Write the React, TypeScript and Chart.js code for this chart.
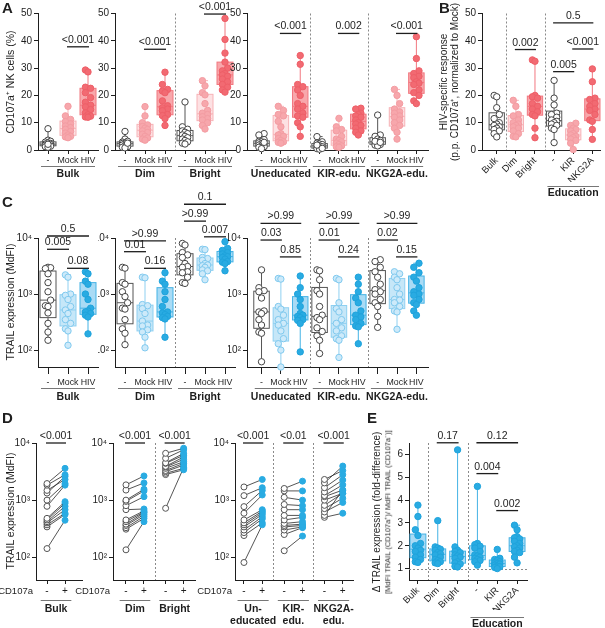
import React, { useEffect, useRef } from "react";
import { Chart, registerables } from "chart.js";

Chart.register(...registerables);

const FONT = "Arial, 'Liberation Sans', Helvetica, sans-serif";
const INK = "#1e1e1e";
const BLUE = "#29abe2";

// ===== Panel A: CD107a+ NK cells (%) =====
const A_BULK_NEG = [7.8, 3.6, 3.2, 2.9, 2.6, 2.4, 2.2, 2.0, 1.8, 1.6, 1.4, 1.2, 1.0, 2.1];
const A_BULK_MOCK = [16.0, 12.5, 11.2, 10.4, 9.6, 8.8, 8.2, 7.6, 6.8, 6.2, 5.5, 5.0, 4.8, 4.5];
const A_BULK_HIV = [29.3, 28.6, 23.0, 22.6, 21.0, 19.2, 17.5, 16.4, 15.8, 14.8, 13.6, 12.9, 12.4, 12.1, 12.0];
const A_DIM_NEG = [6.8, 4.0, 3.2, 2.9, 2.6, 2.4, 2.2, 2.0, 1.8, 1.5, 1.2, 1.0, 0.8, 2.5];
const A_DIM_MOCK = [15.9, 12.5, 10.0, 9.2, 8.6, 8.0, 7.5, 7.0, 6.4, 5.8, 5.0, 4.4, 4.0, 3.6];
const A_DIM_HIV = [28.5, 24.0, 22.2, 21.6, 21.0, 18.0, 16.2, 15.5, 15.0, 14.4, 13.0, 12.6, 11.5, 9.0];
const A_BRIGHT_NEG = [17.6, 8.5, 7.6, 7.0, 6.5, 6.0, 5.5, 5.0, 4.5, 4.0, 3.5, 3.0, 2.5, 2.2];
const A_BRIGHT_MOCK = [25.4, 23.5, 21.0, 20.2, 17.0, 14.5, 13.5, 13.0, 12.2, 11.5, 11.0, 10.0, 9.0, 7.7];
const A_BRIGHT_HIV = [48.2, 40.5, 35.5, 32.2, 30.0, 29.0, 28.0, 27.5, 27.0, 26.0, 25.0, 24.0, 23.0, 22.0, 21.2];
const A_UNEDU_NEG = [6.0, 5.5, 3.8, 3.2, 3.0, 2.6, 2.3, 2.0, 1.8, 1.5, 1.2, 1.0, 0.5, 2.8];
const A_UNEDU_MOCK = [16.0, 14.5, 13.0, 12.5, 10.5, 8.5, 6.0, 5.5, 5.0, 4.2, 3.5, 3.0, 2.8, 2.5];
const A_UNEDU_HIV = [34.6, 31.4, 24.0, 23.2, 22.0, 20.0, 17.0, 16.0, 15.0, 13.5, 12.5, 12.0, 10.0, 8.5, 5.0];
const A_KIR_NEG = [4.9, 3.0, 2.5, 2.2, 2.0, 1.5, 1.2, 1.0, 0.8, 0.5, 0.3, 1.8, 0.6];
const A_KIR_MOCK = [11.6, 8.5, 7.5, 7.0, 5.0, 4.0, 3.5, 3.0, 2.5, 2.0, 1.5, 1.2, 1.0];
const A_KIR_HIV = [15.3, 15.0, 13.5, 13.0, 12.5, 12.0, 11.0, 10.0, 9.5, 9.0, 8.0, 7.0, 6.5, 5.5];
const A_NKG2A_NEG = [12.8, 5.5, 5.0, 4.0, 3.5, 3.0, 2.5, 2.2, 2.0, 1.8, 1.5, 3.2, 2.8];
const A_NKG2A_MOCK = [22.2, 20.0, 17.0, 15.0, 14.0, 13.5, 12.5, 12.0, 11.0, 10.0, 9.0, 8.0, 6.5, 4.0];
const A_NKG2A_HIV = [41.5, 33.5, 29.0, 28.0, 27.0, 26.5, 25.0, 24.5, 24.0, 22.0, 21.0, 20.0, 18.0, 17.0];

// ===== Panel B: HIV-specific response =====
const B_BULK = [20.0, 19.5, 15.5, 13.0, 11.5, 10.0, 9.5, 9.0, 8.5, 8.0, 7.5, 7.0, 6.0, 4.8];
const B_DIM = [18.2, 16.0, 13.0, 12.5, 11.0, 10.0, 9.5, 9.0, 8.5, 8.0, 7.0, 6.0, 5.0, 4.8];
const B_BRIGHT = [33.0, 32.5, 20.0, 19.5, 19.0, 17.0, 16.0, 15.0, 14.0, 13.0, 12.5, 8.0, 4.5];
const B_UNEDU = [25.5, 19.0, 16.5, 13.5, 13.0, 12.0, 11.0, 10.5, 10.0, 9.5, 9.0, 8.0, 7.5, 2.7];
const B_KIR = [9.8, 9.0, 8.0, 7.5, 7.0, 6.0, 5.5, 5.0, 4.5, 4.0, 3.5, 2.5, 0.2];
const B_NKG2A = [29.7, 25.0, 19.0, 18.5, 17.0, 16.0, 15.0, 14.5, 13.0, 11.0, 10.5, 7.5, 3.9];

// ===== Panel C: TRAIL expression (MdFI) =====
const C_BULK_NEG = [3000, 2950, 2850, 2300, 1600, 1100, 780, 620, 600, 460, 300, 210, 150];
const C_BULK_MOCK = [2200, 2000, 1000, 950, 800, 600, 520, 450, 350, 300, 240, 220, 122];
const C_BULK_HIV = [2500, 2300, 1700, 1500, 1000, 800, 560, 500, 480, 450, 420, 390, 195];
const C_DIM_NEG = [3000, 2900, 1600, 1500, 1100, 900, 700, 560, 540, 350, 240, 200, 125];
const C_DIM_MOCK = [2000, 1950, 650, 620, 550, 450, 330, 280, 270, 230, 210, 170, 110];
const C_DIM_HIV = [2400, 1700, 1500, 1100, 800, 600, 480, 460, 430, 400, 380, 360, 170];
const C_BRIGHT_NEG = [8000, 7500, 5500, 5000, 4500, 3500, 3100, 3000, 2500, 2400, 2000, 1600, 1550];
const C_BRIGHT_MOCK = [6300, 6200, 4500, 4300, 4000, 3500, 3300, 3200, 3000, 2700, 2600, 2300, 1800];
const C_BRIGHT_HIV = [8600, 6500, 6000, 5500, 5200, 4800, 4650, 4500, 4200, 3800, 3700, 3500, 2600];
const C_UNEDU_NEG = [2700, 1300, 1150, 1100, 850, 500, 480, 450, 350, 280, 210, 200, 62];
const C_UNEDU_MOCK = [1900, 1850, 600, 540, 420, 350, 300, 280, 220, 160, 130, 100, 50];
const C_UNEDU_HIV = [2100, 1300, 1000, 800, 600, 450, 420, 400, 380, 350, 340, 300, 93];
const C_KIR_NEG = [2700, 2600, 1800, 1150, 1000, 600, 420, 380, 350, 250, 215, 180, 150, 87];
const C_KIR_MOCK = [1900, 1800, 700, 550, 480, 350, 300, 250, 220, 180, 160, 150, 74];
const C_KIR_HIV = [2000, 1500, 1100, 850, 700, 500, 420, 390, 350, 300, 270, 260, 130];
const C_NKG2A_NEG = [4100, 3800, 3000, 2500, 2000, 1500, 1200, 1100, 1000, 800, 700, 600, 400, 255];
const C_NKG2A_MOCK = [2500, 2300, 2000, 1800, 1300, 1000, 800, 780, 700, 600, 500, 480, 235];
const C_NKG2A_HIV = [3550, 3000, 2400, 2000, 1700, 1300, 1100, 1000, 950, 800, 700, 650, 500, 420];

// ===== Panel D: paired TRAIL (CD107a- vs CD107a+) =====
const D_BULK_NEG = [1950, 1830, 1480, 1330, 1000, 780, 480, 450, 420, 400, 370, 340, 142];
const D_BULK_POS = [3600, 2780, 2300, 2600, 1950, 1830, 940, 880, 780, 680, 590, 560, 445];
const D_DIM_NEG = [1850, 1500, 1000, 950, 800, 680, 450, 420, 380, 360, 330, 310, 135];
const D_DIM_POS = [2650, 2000, 1550, 1450, 1150, 700, 650, 620, 600, 560, 520, 480, 420];
const D_BRIGHT_NEG = [6600, 5400, 4500, 4400, 3900, 3800, 3600, 3300, 3150, 2950, 2800, 720];
const D_BRIGHT_POS = [8100, 7600, 6600, 6100, 5700, 5200, 4700, 4400, 4100, 3600, 3400, 3700];
const D_UNEDU_NEG = [1700, 1200, 770, 590, 450, 400, 370, 340, 300, 270, 240, 81];
const D_UNEDU_POS = [2300, 1650, 1480, 1230, 680, 640, 600, 560, 510, 470, 400, 370];
const D_KIR_NEG = [1600, 1450, 1120, 840, 680, 540, 450, 390, 360, 340, 300, 250, 130];
const D_KIR_POS = [2150, 1450, 1000, 800, 680, 540, 500, 420, 380, 360, 340, 330, 235];
const D_NKG2A_NEG = [2300, 2000, 1650, 1390, 1200, 1150, 1000, 810, 710, 620, 540, 500];
const D_NKG2A_POS = [3300, 3950, 2780, 2250, 1850, 1500, 1320, 1320, 1080, 910, 1500, 590];

// ===== Panel E: fold-difference =====
const E_BULK = [3.78, 3.28, 2.7, 2.45, 2.1, 2.0, 1.9, 1.8, 1.75, 1.6, 1.5, 1.4, 1.3, 1.27];
const E_DIM = [3.1, 1.95, 1.9, 1.85, 1.8, 1.7, 1.65, 1.6, 1.5, 1.4, 1.35, 1.3, 1.25, 1.22];
const E_BRIGHT = [6.2, 1.95, 1.8, 1.75, 1.7, 1.6, 1.55, 1.5, 1.45, 1.3, 1.25, 1.2, 1.1, 1.07];
const E_UNEDU = [4.6, 2.1, 2.05, 1.98, 1.9, 1.75, 1.6, 1.55, 1.5, 1.45, 1.4, 1.35, 1.3, 1.15];
const E_KIR = [1.84, 1.45, 1.4, 1.35, 1.3, 1.25, 1.22, 1.2, 1.15, 1.1, 1.08, 1.05, 1.0];
const E_NKG2A = [2.9, 2.7, 2.4, 2.35, 2.3, 2.2, 2.1, 2.0, 1.95, 1.9, 1.8, 1.75, 1.7, 1.5, 1.25];

// ===== Labels / ticks =====
const COND_LABELS = ["-", "Mock", "HIV"];
const PM_LABELS = ["-", "+"];
const SUBSET_LABELS = ["Bulk", "Dim", "Bright", "-", "KIR", "NKG2A"];
const PCT_TICKS = [0, 10, 20, 30, 40, 50];
const LOG_TICKS = [100, 1000, 10000];
const LOG_TICK_LABELS = ["10\u00B2", "10\u00B3", "10\u2074"];
const FOLD_TICKS = [1, 2, 3, 4, 5, 6];

// ===== styles =====
type Style = { boxFill: string; boxStroke: string; ptFill: string; ptStroke: string };
const ST_NEG: Style = { boxFill: "#ffffff", boxStroke: "#555555", ptFill: "#ffffff", ptStroke: "#444444" };
const ST_PINK_L: Style = { boxFill: "#fde1e3", boxStroke: "#f7b3b7", ptFill: "#f7a7ac", ptStroke: "#f39ca2" };
const ST_PINK_D: Style = { boxFill: "#f8a7ab", boxStroke: "#f27880", ptFill: "#f26a72", ptStroke: "#ee5f68" };
const ST_BLUE_L: Style = { boxFill: "#c6e7f8", boxStroke: "#8fd0f1", ptFill: "#cdeafa", ptStroke: "#80c9ee" };
const ST_BLUE_D: Style = { boxFill: "#a9dbf5", boxStroke: "#45b3e5", ptFill: BLUE, ptStroke: "#1fa3dc" };

type Box = { x: number; values: number[]; style: Style };
type Pair = { x0: number; x1: number; neg: number[]; pos: number[] };
type Bracket = { a: number; b: number; y: number; t: string };
type Group = { a: number; b: number; lines: string[] };
type Spec = {
  id: string;
  canvas: { x: number; y: number; w: number; h: number };
  area: { l: number; t: number; r: number; b: number };
  xMin: number; xMax: number; xPos: number[]; xLabels: string[];
  rot?: number; xAxisH: number; xTick: number; xPad: number; xFont: number;
  yType: "linear" | "logarithmic"; yMin: number; yMax: number; yTicks: number[]; yLabels: string[];
  boxes?: Box[]; pairs?: Pair[];
  seps: number[]; brackets: Bracket[]; groups: Group[];
  gU: number; gL: number; gLH: number;
  bw: number; xTitle?: string; hline?: number;
};

const range = (n: number) => Array.from({ length: n }, (_, i) => i);
const rep = (arr: string[], n: number) => range(n).flatMap(() => arr);
const triple = (sets: number[][][], styles: Style[]): Box[] =>
  sets.flatMap((trip, gi) => trip.map((vals, k) => ({ x: gi * 3 + k, values: vals, style: styles[k] })));
const RED3 = [ST_NEG, ST_PINK_L, ST_PINK_D];
const BLUE3 = [ST_NEG, ST_BLUE_L, ST_BLUE_D];
const pctLabels = PCT_TICKS.map(String);

const rowA = { yType: "linear" as const, yMin: 0, yMax: 50, yTicks: PCT_TICKS, yLabels: pctLabels, xAxisH: 14, xTick: 4, xPad: 1, xFont: 8.8, gU: 16, gL: 24, gLH: 12, bw: 0.8 };
const rowC = { yType: "logarithmic" as const, yMin: 50, yMax: 10000, yTicks: LOG_TICKS, yLabels: LOG_TICK_LABELS, xAxisH: 22, xTick: 7, xPad: 3, xFont: 8.8, gU: 21, gL: 30, gLH: 12, bw: 0.8 };
const rowD = { yType: "logarithmic" as const, yMin: 40, yMax: 10000, yTicks: LOG_TICKS, yLabels: LOG_TICK_LABELS, xAxisH: 14, xTick: 4, xPad: 1, xFont: 10, gU: 20, gL: 29, gLH: 12, bw: 0.8, xTitle: "CD107a" };

const SPECS: Spec[] = [
  {
    id: "A1", ...rowA, canvas: { x: 0, y: 0, w: 112, h: 185 }, area: { l: 38, t: 13.5, r: 98, b: 150 },
    xMin: -0.5, xMax: 2.5, xPos: range(3), xLabels: COND_LABELS,
    boxes: triple([[A_BULK_NEG, A_BULK_MOCK, A_BULK_HIV]], RED3),
    seps: [], brackets: [{ a: 1, b: 2, y: 37.8, t: "<0.001" }], groups: [{ a: 0, b: 2, lines: ["Bulk"] }],
  },
  {
    id: "A2", ...rowA, canvas: { x: 98, y: 0, w: 146, h: 185 }, area: { l: 115, t: 13.5, r: 235, b: 150 },
    xMin: -0.5, xMax: 5.5, xPos: range(6), xLabels: rep(COND_LABELS, 2),
    boxes: triple([[A_DIM_NEG, A_DIM_MOCK, A_DIM_HIV], [A_BRIGHT_NEG, A_BRIGHT_MOCK, A_BRIGHT_HIV]], RED3),
    seps: [2.5],
    brackets: [{ a: 1, b: 2, y: 36.9, t: "<0.001" }, { a: 4, b: 5, y: 49.8, t: "<0.001" }],
    groups: [{ a: 0, b: 2, lines: ["Dim"] }, { a: 3, b: 5, lines: ["Bright"] }],
  },
  {
    id: "A3", ...rowA, canvas: { x: 228, y: 0, w: 212, h: 185 }, area: { l: 247, t: 13.5, r: 428, b: 150 },
    xMin: -0.75, xMax: 8.6, xPos: range(9), xLabels: rep(COND_LABELS, 3),
    boxes: triple([[A_UNEDU_NEG, A_UNEDU_MOCK, A_UNEDU_HIV], [A_KIR_NEG, A_KIR_MOCK, A_KIR_HIV], [A_NKG2A_NEG, A_NKG2A_MOCK, A_NKG2A_HIV]], RED3),
    seps: [2.5, 5.5],
    brackets: [{ a: 1, b: 2, y: 42.7, t: "<0.001" }, { a: 4, b: 5, y: 42.7, t: "0.002" }, { a: 7, b: 8, y: 42.7, t: "<0.001" }],
    groups: [{ a: 0, b: 2, lines: ["Uneducated"] }, { a: 3, b: 5, lines: ["KIR-edu."] }, { a: 6, b: 8, lines: ["NKG2A-edu."] }],
  },
  {
    id: "B", ...rowA, canvas: { x: 462, y: 0, w: 143, h: 200 }, area: { l: 482, t: 13.5, r: 603, b: 150 },
    xMin: -0.77, xMax: 5.4, xPos: range(6), xLabels: SUBSET_LABELS, rot: 45, xAxisH: 32, xTick: 4, xPad: 1, xFont: 9.5,
    boxes: [
      { x: 0, values: B_BULK, style: ST_NEG }, { x: 1, values: B_DIM, style: ST_PINK_L }, { x: 2, values: B_BRIGHT, style: ST_PINK_D },
      { x: 3, values: B_UNEDU, style: ST_NEG }, { x: 4, values: B_KIR, style: ST_PINK_L }, { x: 5, values: B_NKG2A, style: ST_PINK_D },
    ],
    seps: [0.5, 2.5],
    brackets: [{ a: 1, b: 2, y: 36.8, t: "0.002" }, { a: 3, b: 4, y: 28.7, t: "0.005" }, { a: 4, b: 5, y: 37, t: "<0.001" }, { a: 3, b: 5, y: 46.6, t: "0.5" }],
    groups: [{ a: 3, b: 5, lines: ["Education"] }], gU: 36, gL: 43,
  },
  {
    id: "C1", ...rowC, canvas: { x: 0, y: 185, w: 112, h: 222 }, area: { l: 38, t: 238, r: 98, b: 367 },
    xMin: -0.5, xMax: 2.5, xPos: range(3), xLabels: COND_LABELS,
    boxes: triple([[C_BULK_NEG, C_BULK_MOCK, C_BULK_HIV]], BLUE3),
    seps: [],
    brackets: [{ a: 0, b: 2, y: 10860, t: "0.5" }, { a: 0, b: 1, y: 6290, t: "0.005" }, { a: 1, b: 2, y: 2880, t: "0.08" }],
    groups: [{ a: 0, b: 2, lines: ["Bulk"] }],
  },
  {
    id: "C2", ...rowC, canvas: { x: 98, y: 185, w: 146, h: 222 }, area: { l: 115, t: 238, r: 235, b: 367 },
    xMin: -0.5, xMax: 5.5, xPos: range(6), xLabels: rep(COND_LABELS, 2),
    boxes: triple([[C_DIM_NEG, C_DIM_MOCK, C_DIM_HIV], [C_BRIGHT_NEG, C_BRIGHT_MOCK, C_BRIGHT_HIV]], BLUE3),
    seps: [2.5],
    brackets: [
      { a: 0, b: 2, y: 8850, t: ">0.99" }, { a: 0, b: 1, y: 5700, t: "0.01" }, { a: 1, b: 2, y: 2880, t: "0.16" },
      { a: 3, b: 5, y: 40000, t: "0.1" }, { a: 3, b: 4, y: 20000, t: ">0.99" }, { a: 4, b: 5, y: 10500, t: "0.007" },
    ],
    groups: [{ a: 0, b: 2, lines: ["Dim"] }, { a: 3, b: 5, lines: ["Bright"] }],
  },
  {
    id: "C3", ...rowC, canvas: { x: 228, y: 185, w: 212, h: 222 }, area: { l: 247, t: 238, r: 428, b: 367 },
    xMin: -0.75, xMax: 8.6, xPos: range(9), xLabels: rep(COND_LABELS, 3),
    boxes: triple([[C_UNEDU_NEG, C_UNEDU_MOCK, C_UNEDU_HIV], [C_KIR_NEG, C_KIR_MOCK, C_KIR_HIV], [C_NKG2A_NEG, C_NKG2A_MOCK, C_NKG2A_HIV]], BLUE3),
    seps: [2.5, 5.5],
    brackets: [
      { a: 0, b: 2, y: 18300, t: ">0.99" }, { a: 0, b: 1, y: 9200, t: "0.03" }, { a: 1, b: 2, y: 4600, t: "0.85" },
      { a: 3, b: 5, y: 18300, t: ">0.99" }, { a: 3, b: 4, y: 9200, t: "0.01" }, { a: 4, b: 5, y: 4600, t: "0.24" },
      { a: 6, b: 8, y: 18300, t: ">0.99" }, { a: 6, b: 7, y: 9200, t: "0.02" }, { a: 7, b: 8, y: 4600, t: "0.15" },
    ],
    groups: [{ a: 0, b: 2, lines: ["Uneducated"] }, { a: 3, b: 5, lines: ["KIR-edu."] }, { a: 6, b: 8, lines: ["NKG2A-edu."] }],
  },
  {
    id: "D1", ...rowD, canvas: { x: 0, y: 425, w: 92, h: 203 }, area: { l: 36, t: 443, r: 82, b: 580 },
    xMin: -0.61, xMax: 1.94, xPos: [0, 1], xLabels: PM_LABELS,
    pairs: [{ x0: 0, x1: 1, neg: D_BULK_NEG, pos: D_BULK_POS }],
    seps: [], brackets: [{ a: 0, b: 1, y: 10000, t: "<0.001" }], groups: [{ a: 0, b: 1, lines: ["Bulk"] }],
  },
  {
    id: "D2", ...rowD, canvas: { x: 72, y: 425, w: 132, h: 203 }, area: { l: 113, t: 443, r: 195, b: 580 },
    xMin: -0.72, xMax: 3.83, xPos: [0, 1, 2.2, 3.2], xLabels: rep(PM_LABELS, 2),
    pairs: [{ x0: 0, x1: 1, neg: D_DIM_NEG, pos: D_DIM_POS }, { x0: 2.2, x1: 3.2, neg: D_BRIGHT_NEG, pos: D_BRIGHT_POS }],
    seps: [1.6],
    brackets: [{ a: 0, b: 1, y: 10000, t: "<0.001" }, { a: 2.2, b: 3.2, y: 10000, t: "<0.001" }],
    groups: [{ a: 0, b: 1, lines: ["Dim"] }, { a: 2.2, b: 3.2, lines: ["Bright"] }],
  },
  {
    id: "D3", ...rowD, canvas: { x: 192, y: 425, w: 170, h: 203 }, area: { l: 235, t: 443, r: 353, b: 580 },
    xMin: -0.49, xMax: 5.96, xPos: [0, 1, 2.2, 3.2, 4.4, 5.4], xLabels: rep(PM_LABELS, 3),
    pairs: [
      { x0: 0, x1: 1, neg: D_UNEDU_NEG, pos: D_UNEDU_POS },
      { x0: 2.2, x1: 3.2, neg: D_KIR_NEG, pos: D_KIR_POS },
      { x0: 4.4, x1: 5.4, neg: D_NKG2A_NEG, pos: D_NKG2A_POS },
    ],
    seps: [1.6, 3.8],
    brackets: [{ a: 0, b: 1, y: 10000, t: "<0.001" }, { a: 2.2, b: 3.2, y: 10000, t: "<0.01" }, { a: 4.4, b: 5.4, y: 10000, t: "<0.001" }],
    groups: [{ a: 0, b: 1, lines: ["Un-", "educated"] }, { a: 2.2, b: 3.2, lines: ["KIR-", "edu."] }, { a: 4.4, b: 5.4, lines: ["NKG2A-", "edu."] }],
  },
  {
    id: "E", yType: "linear", yMin: 0.5, yMax: 6.5, yTicks: FOLD_TICKS, yLabels: FOLD_TICKS.map(String),
    canvas: { x: 392, y: 425, w: 148, h: 210 }, area: { l: 409, t: 443, r: 527, b: 580 },
    xMin: -0.45, xMax: 5.5, xPos: range(6), xLabels: SUBSET_LABELS, rot: 45, xAxisH: 30, xTick: 4, xPad: 1, xFont: 9.5,
    boxes: [E_BULK, E_DIM, E_BRIGHT, E_UNEDU, E_KIR, E_NKG2A].map((v, i) => ({ x: i, values: v, style: ST_BLUE_D })),
    seps: [0.5, 2.5], hline: 1,
    brackets: [{ a: 1, b: 2, y: 6.51, t: "0.17" }, { a: 3, b: 5, y: 6.51, t: "0.12" }, { a: 3, b: 4, y: 5.16, t: "0.004" }, { a: 4, b: 5, y: 3.54, t: "0.002" }],
    groups: [{ a: 3, b: 5, lines: ["Education"] }], gU: 37, gL: 44, gLH: 12, bw: 0.8,
  },
];

function quant(sorted: number[], p: number) {
  const n = sorted.length;
  const pos = p * (n + 1) - 1;
  if (pos <= 0) return sorted[0];
  if (pos >= n - 1) return sorted[n - 1];
  const lo = Math.floor(pos);
  return sorted[lo] + (sorted[lo + 1] - sorted[lo]) * (pos - lo);
}
function stats(v: number[]) {
  const s = [...v].sort((a, b) => a - b);
  return { min: s[0], max: s[s.length - 1], q1: quant(s, 0.25), med: quant(s, 0.5), q3: quant(s, 0.75) };
}

function line(ctx: CanvasRenderingContext2D, x1: number, y1: number, x2: number, y2: number) {
  ctx.beginPath();
  ctx.moveTo(x1, y1);
  ctx.lineTo(x2, y2);
  ctx.stroke();
}

function decoPlugin(s: Spec) {
  return {
    id: "deco" + s.id,
    afterDatasetsUpdate(chart: any) {
      if (!s.boxes) return;
      const xs = chart.scales.x;
      s.boxes.forEach((g, di) => {
        const els: any[] = chart.getDatasetMeta(di).data;
        const cx = xs.getPixelForValue(g.x);
        const half = Math.abs(xs.getPixelForValue(g.x + s.bw / 2) - cx);
        const lim = Math.max(0, half - 3);
        const step = 2.6;
        const cands: number[] = [0];
        for (let k = 1; k * step <= lim + 0.01; k++) cands.push(-k * step, k * step);
        const order = els.map((_, i) => i).sort((a, b) => els[b].y - els[a].y);
        const placed: { x: number; y: number }[] = [];
        order.forEach((i) => {
          const y = els[i].y;
          let best = 0;
          let bestD = -1;
          for (const c of cands) {
            let d = Infinity;
            for (const p of placed) {
              const dd = Math.hypot(p.x - (cx + c), p.y - y);
              if (dd < d) d = dd;
            }
            if (d >= 6.4) { best = c; bestD = d; break; }
            if (d > bestD) { bestD = d; best = c; }
          }
          els[i].x = cx + best;
          placed.push({ x: cx + best, y });
        });
      });
    },
    beforeDatasetsDraw(chart: any) {
      const ctx: CanvasRenderingContext2D = chart.ctx;
      const xs = chart.scales.x;
      const ys = chart.scales.y;
      const ar = chart.chartArea;
      ctx.save();
      ctx.strokeStyle = "#8a8a8a";
      ctx.lineWidth = 1;
      ctx.setLineDash([2, 2]);
      s.seps.forEach((v) => {
        const x = Math.round(xs.getPixelForValue(v)) + 0.5;
        line(ctx, x, ar.top, x, ar.bottom);
      });
      if (s.hline !== undefined) {
        const y = Math.round(ys.getPixelForValue(s.hline)) + 0.5;
        line(ctx, ar.left, y, ar.right, y);
      }
      ctx.setLineDash([]);
      (s.boxes || []).forEach((g) => {
        const st = stats(g.values);
        const cx = xs.getPixelForValue(g.x);
        const hw = Math.abs(xs.getPixelForValue(g.x + s.bw / 2) - cx);
        const p = (v: number) => ys.getPixelForValue(v);
        ctx.strokeStyle = g.style.boxStroke;
        ctx.lineWidth = 1;
        line(ctx, cx, p(st.max), cx, p(st.q3));
        line(ctx, cx, p(st.q1), cx, p(st.min));
        line(ctx, cx - 3, p(st.max), cx + 3, p(st.max));
        line(ctx, cx - 3, p(st.min), cx + 3, p(st.min));
        ctx.fillStyle = g.style.boxFill;
        ctx.fillRect(cx - hw, p(st.q3), 2 * hw, p(st.q1) - p(st.q3));
        ctx.strokeRect(cx - hw, p(st.q3), 2 * hw, p(st.q1) - p(st.q3));
        line(ctx, cx - hw, p(st.med), cx + hw, p(st.med));
      });
      ctx.restore();
    },
    afterDraw(chart: any) {
      const ctx: CanvasRenderingContext2D = chart.ctx;
      const xs = chart.scales.x;
      const ys = chart.scales.y;
      const ar = chart.chartArea;
      ctx.save();
      ctx.fillStyle = INK;
      ctx.strokeStyle = INK;
      ctx.lineWidth = 1.3;
      ctx.font = `10.5px ${FONT}`;
      ctx.textAlign = "center";
      ctx.textBaseline = "alphabetic";
      s.brackets.forEach((b) => {
        const x1 = xs.getPixelForValue(b.a) - 1;
        const x2 = xs.getPixelForValue(b.b) + 1;
        const y = ys.getPixelForValue(b.y);
        line(ctx, x1, y, x2, y);
        ctx.fillText(b.t, (x1 + x2) / 2, y - 4);
      });
      s.groups.forEach((g) => {
        const x1 = xs.getPixelForValue(g.a - 0.35);
        const x2 = xs.getPixelForValue(g.b + 0.35);
        const yU = Math.round(ar.bottom + s.gU) + 0.5;
        ctx.strokeStyle = "#777";
        ctx.lineWidth = 1;
        line(ctx, x1, yU, x2, yU);
        ctx.font = `bold 10.5px ${FONT}`;
        ctx.textBaseline = "middle";
        g.lines.forEach((ln, k) => ctx.fillText(ln, (x1 + x2) / 2, ar.bottom + s.gL + k * s.gLH));
      });
      if (s.xTitle) {
        ctx.font = `9.5px ${FONT}`;
        ctx.textAlign = "right";
        ctx.textBaseline = "middle";
        ctx.fillText(s.xTitle, ar.left - 3, ar.bottom + s.xTick + s.xPad + 6);
      }
      ctx.restore();
    },
  };
}

function buildConfig(s: Spec): any {
  const datasets: any[] = [];
  (s.boxes || []).forEach((g) =>
    datasets.push({
      data: g.values.map((v) => ({ x: g.x, y: v })),
      pointRadius: 3.2,
      pointBorderWidth: 1,
      pointBackgroundColor: g.style.ptFill,
      pointBorderColor: g.style.ptStroke,
      showLine: false,
      clip: false,
    })
  );
  (s.pairs || []).forEach((p) =>
    p.neg.forEach((n, i) =>
      datasets.push({
        data: [{ x: p.x0, y: n }, { x: p.x1, y: p.pos[i] }],
        showLine: true,
        borderColor: "#2a2a2a",
        borderWidth: 0.8,
        pointRadius: 3,
        pointBorderWidth: 1,
        pointBackgroundColor: ["#ffffff", BLUE],
        pointBorderColor: ["#555555", BLUE],
        clip: false,
      })
    )
  );
  const yW = s.area.l - s.canvas.x;
  return {
    type: "scatter",
    data: { datasets },
    options: {
      responsive: false,
      animation: false,
      devicePixelRatio: 1,
      events: [],
      layout: {
        padding: {
          left: 0,
          top: s.area.t - s.canvas.y,
          right: s.canvas.x + s.canvas.w - s.area.r,
          bottom: s.canvas.y + s.canvas.h - s.area.b - s.xAxisH,
        },
      },
      plugins: { legend: { display: false }, tooltip: { enabled: false }, title: { display: false } },
      scales: {
        x: {
          type: "linear",
          min: s.xMin,
          max: s.xMax,
          afterBuildTicks: (sc: any) => { sc.ticks = s.xPos.map((v) => ({ value: v })); },
          afterFit: (sc: any) => { sc.height = s.xAxisH; sc.paddingLeft = 0; sc.paddingRight = 0; },
          ticks: {
            autoSkip: false,
            maxRotation: s.rot || 0,
            minRotation: s.rot || 0,
            padding: s.xPad,
            color: INK,
            font: { family: FONT, size: s.xFont },
            callback: (_v: any, i: number) => s.xLabels[i],
          },
          grid: { drawOnChartArea: false, drawTicks: true, tickLength: s.xTick, color: INK, lineWidth: 1 },
          border: { display: true, color: INK, width: 1 },
        },
        y: {
          type: s.yType,
          min: s.yMin,
          max: s.yMax,
          afterBuildTicks: (sc: any) => { sc.ticks = s.yTicks.map((v) => ({ value: v })); },
          afterFit: (sc: any) => { sc.width = yW; sc.paddingTop = 0; sc.paddingBottom = 0; },
          ticks: {
            autoSkip: false,
            padding: 2,
            color: INK,
            font: { family: FONT, size: 10 },
            callback: (_v: any, i: number) => s.yLabels[i],
          },
          grid: { drawOnChartArea: false, drawTicks: true, tickLength: 4, color: INK, lineWidth: 1 },
          border: { display: true, color: INK, width: 1 },
        },
      },
    },
    plugins: [decoPlugin(s)],
  };
}

function ChartBox({ spec }: { spec: Spec }) {
  const ref = useRef<HTMLCanvasElement>(null);
  useEffect(() => {
    const chart = new Chart(ref.current as HTMLCanvasElement, buildConfig(spec));
    return () => chart.destroy();
  }, [spec]);
  return (
    <canvas
      ref={ref}
      width={spec.canvas.w}
      height={spec.canvas.h}
      style={{ position: "absolute", left: spec.canvas.x, top: spec.canvas.y, width: spec.canvas.w, height: spec.canvas.h }}
    />
  );
}

const LETTERS = [
  { t: "A", x: 2, y: 0 },
  { t: "B", x: 439, y: 0 },
  { t: "C", x: 2, y: 194 },
  { t: "D", x: 2, y: 410 },
  { t: "E", x: 367, y: 410 },
];

const TITLES = [
  { t: "CD107a\u207A NK cells (%)", x: 10, y: 82, size: 10.5 },
  { t: "HIV-specific response", x: 444, y: 82, size: 10 },
  { t: "(p.p. CD107a\u207A, normalized to Mock)", x: 455, y: 82, size: 10 },
  { t: "TRAIL expression (MdFI)", x: 10, y: 302, size: 10.5 },
  { t: "TRAIL expression (MdFI)", x: 10, y: 511, size: 10.5 },
  { t: "\u0394 TRAIL expression (fold-difference)", x: 377, y: 512, size: 10 },
  { t: "[MdFI TRAIL (CD107a\u207A)/ MdFI TRAIL (CD107a\u207B)]", x: 388, y: 512, size: 7.5 },
];

export default function App() {
  return (
    <div
      style={{
        position: "absolute", left: 0, top: 0, width: 605, height: 628, background: "#ffffff",
        overflow: "hidden", fontFamily: FONT, color: INK,
      }}
    >
      {SPECS.map((s) => (
        <ChartBox key={s.id} spec={s} />
      ))}
      {LETTERS.map((l) => (
        <div key={l.t} style={{ position: "absolute", left: l.x, top: l.y, fontSize: 15, fontWeight: "bold", lineHeight: "16px" }}>
          {l.t}
        </div>
      ))}
      {TITLES.map((t, i) => (
        <div
          key={i}
          style={{
            position: "absolute", left: t.x, top: t.y, fontSize: t.size, lineHeight: 1, whiteSpace: "nowrap",
            transform: "translate(-50%, -50%) rotate(-90deg)",
          }}
        >
          {t.t}
        </div>
      ))}
    </div>
  );
}
